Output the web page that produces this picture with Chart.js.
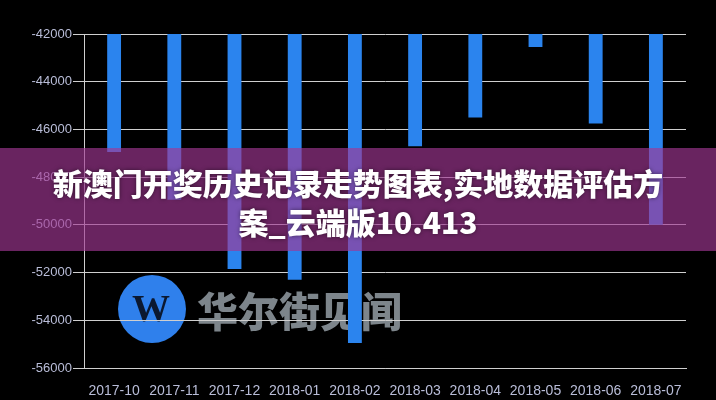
<!DOCTYPE html>
<html>
<head>
<meta charset="utf-8">
<script src="https://cdn.jsdelivr.net/npm/chart.js@4/dist/chart.umd.min.js"></script>
<style>
  html, body { margin: 0; padding: 0; background: #000; }
  canvas { display: block; }
</style>
</head>
<body>
<canvas id="chart" width="716" height="400"></canvas>
<script>
// Data
const months = ['2017-10', '2017-11', '2017-12', '2018-01', '2018-02',
                '2018-03', '2018-04', '2018-05', '2018-06', '2018-07'];
const values = [-46950, -48950, -51850, -52300, -54950,
                -46700, -45500, -42550, -45750, -50000];
const yMin = -56000;
const yMax = -42000;
const yStep = 2000;

const titleLines = ['新澳门开奖历史记录走势图表,实地数据评估方', '案_云端版10.413'];
const watermarkText = '华尔街见闻';

// Watermark sits behind grid and bars
const watermarkPlugin = {
    id: 'watermark',
    beforeDraw(chart) {
        const ctx = chart.ctx;
        ctx.save();
        ctx.fillStyle = '#000';
        ctx.fillRect(0, 0, chart.width, chart.height);
        // blue circle logo
        ctx.fillStyle = '#2f80ec';
        ctx.beginPath();
        ctx.arc(152, 309, 34, 0, Math.PI * 2);
        ctx.fill();
        ctx.fillStyle = '#0b1830';
        ctx.font = 'bold 38px "Liberation Serif"';
        ctx.textAlign = 'center';
        ctx.textBaseline = 'middle';
        ctx.fillText('W', 151, 311);
        // brand text
        ctx.fillStyle = '#7d858b';
        ctx.font = '900 41px "Noto Sans CJK SC"';
        ctx.textAlign = 'left';
        ctx.fillText(watermarkText, 197, 311);
        ctx.restore();
    }
};

// Purple banner with the title, on top of everything
const bannerPlugin = {
    id: 'banner',
    afterDraw(chart) {
        const ctx = chart.ctx;
        ctx.save();
        ctx.fillStyle = 'rgba(162, 55, 148, 0.65)';
        ctx.fillRect(0, 148, chart.width, 103);
        ctx.fillStyle = '#fff';
        ctx.font = '900 30px "Noto Sans CJK SC"';
        ctx.textAlign = 'center';
        ctx.textBaseline = 'middle';
        ctx.shadowColor = 'rgba(0, 0, 0, 0.5)';
        ctx.shadowBlur = 4;
        ctx.fillText(titleLines[0], 358, 184);
        ctx.fillText(titleLines[1], 358, 223);
        ctx.restore();
    }
};

const ctx = document.getElementById('chart').getContext('2d');
new Chart(ctx, {
    type: 'bar',
    data: {
        labels: months,
        datasets: [{
            data: values,
            backgroundColor: '#2b84ee',
            borderWidth: 0,
            barPercentage: 0.23,
            categoryPercentage: 1
        }]
    },
    options: {
        responsive: false,
        animation: false,
        layout: {
            padding: { top: 34, right: 30, left: 0, bottom: 0 }
        },
        scales: {
            x: {
                grid: { display: false },
                border: { color: '#cfcfcf' },
                ticks: {
                    color: '#b9bdd8',
                    font: { family: '"Liberation Sans"', size: 14 },
                    maxRotation: 0,
                    padding: 7
                },
                afterFit(scale) { scale.height = 32; }
            },
            y: {
                min: yMin,
                max: yMax,
                grid: { color: '#cfcfcf', tickLength: 11 },
                border: { color: '#cfcfcf' },
                ticks: {
                    stepSize: yStep,
                    color: '#b9bdd8',
                    font: { family: '"Liberation Sans"', size: 13 },
                    padding: 1,
                    callback: v => String(v)
                },
                afterFit(scale) { scale.width = 84; }
            }
        },
        plugins: {
            legend: { display: false },
            tooltip: { enabled: false }
        }
    },
    plugins: [watermarkPlugin, bannerPlugin]
});
</script>
</body>
</html>
